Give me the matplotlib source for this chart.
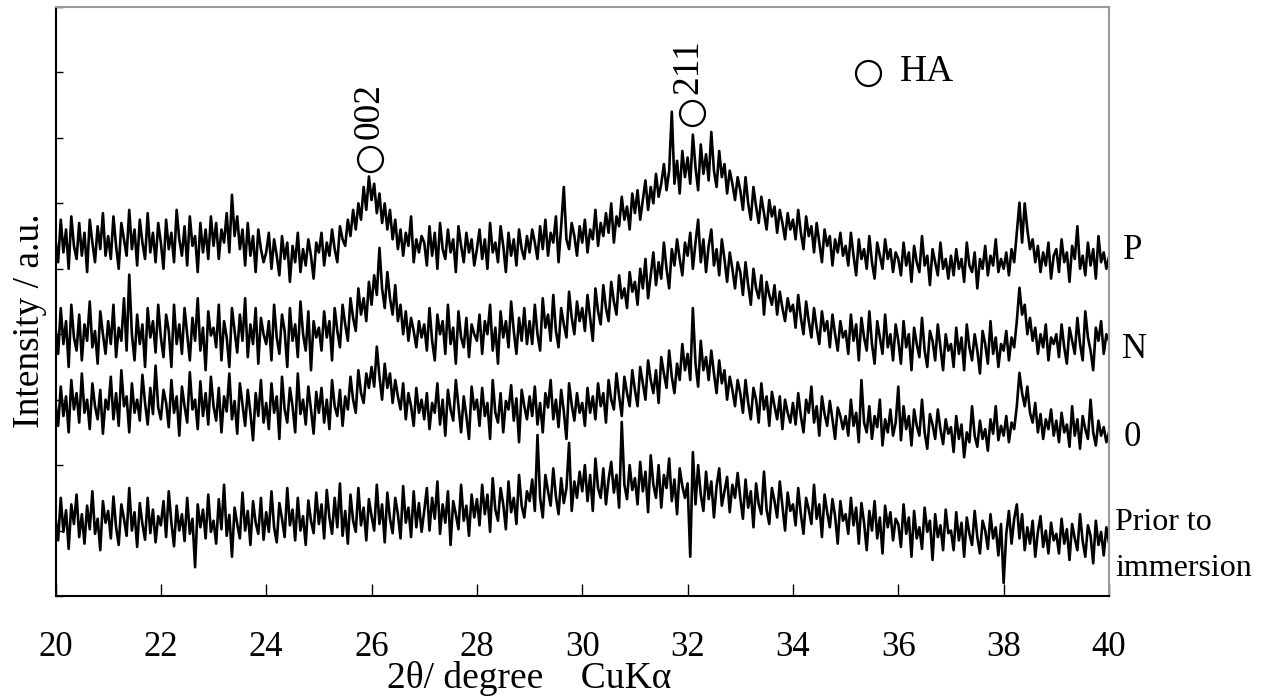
import numpy as np
import matplotlib
matplotlib.use("Agg")
import matplotlib.pyplot as plt
from matplotlib.lines import Line2D

# ---- data (intensity, arbitrary units, traces already offset) ----
two_theta_start = 20.0
two_theta_end = 40.0

prior = [
120, 85, 150, 98, 131, 72, 140, 110, 155, 90, 125, 80, 138, 102, 160, 95, 118, 70, 145, 112,
130, 88, 152, 105, 78, 140, 118, 92, 165, 100, 128, 75, 142, 110, 86, 150, 96, 132, 82, 122,
108, 145, 90, 160, 112, 76, 138, 100, 125, 84, 150, 95, 118, 44, 140, 105, 132, 88, 155, 98,
115, 80, 148, 102, 170, 92, 124, 60, 135, 110, 88, 158, 100, 130, 78, 145, 112, 95, 150, 86,
128, 98, 160, 105, 82, 142, 118, 90, 165, 108, 132, 85, 150, 100, 122, 78, 146, 115, 96, 158,
110, 140, 88, 162, 120, 95, 150, 105, 172, 92, 130, 80, 155, 115, 98, 165, 108, 135, 85, 148,
122, 100, 170, 110, 140, 82, 158, 118, 96, 150, 125, 88, 168, 112, 135, 90, 160, 105, 142, 98,
130, 165, 100, 150, 118, 175, 95, 140, 112, 160, 78, 145, 125, 102, 170, 115, 138, 92, 155, 120,
148, 108, 170, 125, 155, 98, 180, 132, 115, 165, 140, 102, 175, 128, 150, 110, 185, 138, 120, 160,
145, 178, 130, 246, 150, 120, 185, 160, 138, 195, 152, 125, 180, 142, 165, 234, 130, 175, 150, 190,
160, 200, 145, 185, 130, 210, 165, 150, 195, 140, 178, 205, 158, 185, 135, 266, 170, 148, 200, 162,
180, 140, 205, 160, 190, 128, 215, 170, 150, 200, 135, 185, 165, 210, 145, 178, 125, 195, 168, 150,
172, 60, 220, 140, 200, 155, 130, 190, 148, 175, 120, 168, 195, 138, 160, 182, 128, 170, 150, 188,
150, 118, 178, 135, 160, 105, 172, 140, 125, 190, 132, 110, 165, 145, 120, 175, 138, 100, 158, 130,
140, 108, 165, 125, 95, 150, 132, 110, 170, 118, 140, 90, 155, 128, 105, 148, 122, 80, 145, 115,
125, 95, 150, 108, 135, 80, 142, 112, 70, 130, 100, 145, 88, 120, 65, 138, 105, 128, 85, 118,
110, 75, 140, 95, 120, 60, 130, 88, 105, 72, 135, 98, 115, 55, 125, 90, 108, 70, 132, 96,
100, 70, 128, 85, 112, 60, 120, 95, 78, 130, 90, 65, 115, 100, 72, 125, 88, 105, 62, 110,
20, 95, 130, 80, 118, 140, 88, 125, 70, 105, 80, 115, 60, 98, 122, 75, 100, 65, 112, 85,
95, 65, 118, 80, 102, 55, 110, 88, 70, 125, 84, 60, 108, 92, 50, 115, 78, 98, 62, 105,
82]

zero = [
295, 260, 320, 275, 305, 250, 330, 285, 310, 265, 340, 280, 300, 255, 325, 290, 270, 315, 248, 300,
285, 335, 270, 310, 260, 345, 290, 305, 250, 325, 280, 300, 268, 338, 295, 262, 318, 278, 352, 288,
270, 315, 295, 258, 330, 280, 305, 245, 320, 290, 265, 342, 285, 300, 255, 328, 275, 310, 262, 335,
290, 268, 318, 250, 305, 282, 340, 270, 298, 248, 325, 292, 260, 315, 280, 238, 310, 275, 330, 265,
295, 255, 325, 280, 305, 240, 335, 285, 265, 318, 290, 250, 340, 278, 300, 262, 320, 285, 248, 312,
280, 318, 265, 300, 255, 330, 290, 275, 315, 260, 305, 285, 335, 300, 280, 345, 310, 295, 340, 318,
350, 320, 381, 335, 300, 355, 318, 340, 295, 330, 305, 285, 325, 270, 310, 290, 260, 318, 280, 300,
270, 310, 255, 295, 280, 325, 262, 300, 245, 315, 285, 268, 330, 290, 250, 305, 275, 240, 320, 285,
300, 260, 318, 275, 295, 240, 330, 280, 265, 310, 250, 298, 285, 322, 268, 302, 235, 315, 290, 270,
305, 275, 320, 262, 295, 250, 310, 288, 330, 270, 300, 258, 315, 282, 240, 325, 292, 268, 310, 280,
295, 260, 318, 280, 305, 270, 325, 290, 310, 265, 330, 300, 285, 340, 305, 275, 335, 310, 290, 345,
315, 290, 350, 325, 300, 360, 330, 310, 345, 295, 365, 340, 318, 375, 335, 310, 355, 330, 385, 345,
370, 330, 440, 355, 320, 390, 345, 365, 330, 375, 340, 310, 360, 325, 345, 300, 335, 315, 290, 330,
310, 280, 330, 295, 270, 318, 300, 265, 325, 285, 305, 260, 312, 290, 270, 305, 255, 300, 280, 265,
295, 262, 310, 275, 250, 300, 280, 320, 265, 290, 245, 305, 278, 260, 298, 270, 240, 288, 275, 255,
275, 245, 300, 260, 280, 235, 330, 265, 250, 290, 240, 275, 258, 300, 230, 270, 250, 285, 245, 265,
320, 238, 290, 255, 275, 230, 285, 260, 245, 300, 250, 225, 278, 262, 240, 285, 255, 232, 270, 248,
258, 220, 275, 240, 262, 212, 250, 235, 290, 245, 228, 268, 240, 255, 222, 270, 248, 290, 238, 260,
245, 275, 235, 265, 255, 290, 341, 310, 290, 320, 280, 265, 295, 250, 278, 240, 270, 255, 285, 245,
268, 235, 280, 250, 262, 228, 290, 245, 270, 225, 275, 255, 240, 300, 250, 230, 268, 245, 258, 235,
250]

n_series = [
410, 370, 440, 385, 420, 350, 445, 395, 375, 430, 360, 415, 390, 450, 380, 405, 355, 435, 400, 370,
420, 385, 445, 365, 410, 390, 455, 375, 491, 400, 360, 430, 385, 415, 350, 440, 395, 420, 372, 445,
395, 365, 430, 405, 350, 445, 385, 415, 370, 440, 400, 360, 425, 390, 455, 375, 410, 345, 435, 398,
410, 380, 445, 360, 420, 395, 350, 440, 405, 372, 430, 390, 455, 365, 415, 385, 440, 355, 425, 400,
385, 420, 360, 445, 395, 370, 430, 405, 350, 440, 390, 415, 365, 450, 400, 375, 435, 345, 420, 395,
410, 375, 435, 395, 420, 360, 440, 405, 380, 445, 415, 390, 455, 425, 405, 470, 430, 455, 420, 480,
445, 490, 460, 532, 470, 440, 495, 455, 430, 475, 420, 445, 400, 435, 390, 425, 405, 380, 420, 395,
415, 375, 440, 390, 360, 430, 400, 420, 370, 445, 385, 410, 355, 435, 395, 380, 425, 365, 415, 400,
390, 430, 370, 420, 400, 445, 375, 410, 355, 435, 395, 420, 380, 450, 405, 370, 425, 390, 440, 385,
420, 385, 445, 400, 375, 455, 410, 430, 390, 460, 405, 380, 440, 415, 395, 465, 425, 400, 450, 420,
440, 405, 460, 425, 390, 470, 435, 415, 475, 440, 420, 480, 450, 430, 490, 455, 470, 440, 495, 465,
480, 445, 500, 470, 515, 455, 490, 525, 475, 510, 485, 540, 500, 470, 530, 505, 545, 515, 490, 540,
520, 555, 500, 540, 575, 510, 545, 495, 535, 560, 505, 530, 490, 545, 515, 480, 525, 500, 470, 510,
495, 460, 510, 475, 445, 500, 470, 455, 490, 430, 480, 460, 445, 475, 430, 465, 440, 420, 455, 435,
445, 410, 460, 425, 400, 450, 420, 395, 440, 410, 385, 435, 405, 420, 380, 430, 400, 375, 420, 395,
405, 370, 430, 390, 415, 360, 425, 395, 375, 435, 385, 355, 420, 395, 370, 430, 380, 400, 360, 415,
390, 355, 420, 380, 400, 345, 410, 385, 365, 425, 375, 350, 405, 390, 360, 415, 380, 345, 400, 375,
385, 350, 410, 370, 395, 345, 415, 380, 360, 400, 375, 340, 405, 385, 355, 420, 370, 395, 350, 385,
375, 405, 360, 395, 380, 420, 471, 430, 445, 400, 425, 390, 410, 370, 400, 380, 415, 360, 395, 385,
400, 365, 415, 380, 355, 410, 390, 370, 425, 385, 360, 435, 395, 375, 345, 410, 390, 420, 370, 400,
390]

p_series = [
545, 510, 575, 525, 560, 500, 580, 535, 515, 570, 520, 555, 495, 575, 540, 510, 565, 530, 585, 520,
550, 515, 580, 535, 500, 570, 545, 520, 590, 530, 560, 505, 575, 540, 515, 585, 525, 555, 510, 570,
540, 500, 575, 530, 555, 510, 590, 545, 520, 565, 505, 580, 535, 550, 495, 570, 525, 560, 515, 580,
535, 570, 515, 560, 540, 585, 525, 613, 550, 580, 530, 560, 505, 570, 520, 550, 495, 560, 530, 510,
525, 555, 500, 545, 520, 490, 550, 515, 540, 480, 535, 510, 555, 495, 530, 505, 545, 520, 485, 540,
525, 555, 505, 540, 520, 560, 530, 510, 565, 545, 535, 575, 550, 590, 560, 600, 575, 625, 590, 641,
605, 630, 585, 615, 570, 600, 560, 590, 545, 575, 530, 560, 520, 555, 535, 580, 510, 545, 525, 550,
540, 505, 565, 520, 555, 500, 570, 530, 515, 560, 525, 545, 495, 565, 535, 510, 555, 525, 545, 505,
530, 560, 515, 545, 500, 570, 525, 540, 510, 565, 535, 495, 555, 520, 545, 505, 560, 530, 515, 550,
525, 560, 540, 515, 565, 530, 575, 520, 555, 540, 580, 510, 565, 625, 545, 530, 570, 550, 520, 565,
540, 575, 525, 560, 545, 590, 535, 570, 550, 585, 555, 600, 540, 580, 565, 610, 575, 595, 560, 615,
585, 620, 575, 605, 635, 590, 625, 600, 645, 610, 630, 660, 620, 650, 740, 630, 665, 615, 680, 640,
670, 630, 705, 655, 620, 690, 645, 675, 635, 709, 650, 625, 680, 640, 660, 615, 650, 630, 605, 640,
620, 590, 640, 600, 575, 625, 595, 570, 610, 585, 560, 605, 580, 595, 555, 590, 570, 545, 585, 560,
575, 545, 590, 555, 530, 580, 550, 565, 525, 570, 540, 510, 560, 535, 550, 505, 545, 525, 555, 520,
535, 505, 555, 520, 490, 545, 515, 530, 500, 550, 510, 485, 540, 520, 500, 545, 515, 530, 495, 525,
515, 490, 540, 505, 525, 480, 535, 510, 495, 550, 505, 520, 475, 530, 510, 490, 540, 500, 515, 485,
520, 490, 530, 500, 515, 480, 540, 505, 495, 525, 470, 515, 500, 535, 490, 520, 505, 545, 495, 515,
500, 525, 490, 530, 510, 555, 601, 540, 600, 560, 530, 545, 510, 535, 495, 525, 505, 540, 485, 520,
530, 495, 545, 510, 525, 480, 535, 515, 565, 500, 520, 490, 540, 505, 530, 485, 550, 510, 525, 500,
518]

series = [prior, zero, n_series, p_series]
x_ticks = [20, 22, 24, 26, 28, 30, 32, 34, 36, 38, 40]
peak_labels = ["002", "211"]
legend_text = "HA"

W, H = 1270, 699
fig = plt.figure(figsize=(W / 100, H / 100), dpi=100)
serif = ["Liberation Serif", "DejaVu Serif", "DejaVu Sans"]
plt.rcParams["font.family"] = serif


def fx(px):
    return px / W


def fy(py):
    return 1 - py / H


ax = fig.add_axes([fx(55.5), fy(596), fx(1109) - fx(55.5), fy(7) - fy(596)])

for s in series:
    xs = np.linspace(two_theta_start, two_theta_end, len(s))
    ax.plot(xs, s, color="black", lw=1.9)

ax.set_xlim(two_theta_start, two_theta_end)
ax.set_ylim(0, 900)
ax.set_xticks(x_ticks)
ax.set_xticklabels([str(t) for t in x_ticks])
ax.set_yticks(range(0, 901, 100))
ax.set_yticklabels([])
ax.tick_params(axis="x", direction="in", length=9, width=1, labelsize=25, pad=25)
ax.tick_params(axis="y", direction="in", length=5, width=1)

ax.spines["left"].set_color("black")
ax.spines["bottom"].set_color("black")
ax.spines["left"].set_linewidth(1.5)
ax.spines["bottom"].set_linewidth(1.5)
ax.spines["top"].set_color("#999999")
ax.spines["right"].set_color("#999999")
ax.spines["top"].set_linewidth(1.5)
ax.spines["right"].set_linewidth(1.5)

# axis labels
fig.text(fx(529), fy(679), "2\u03b8/ degree    CuK\u03b1", fontsize=27,
         ha="center", va="center", family=serif)
fig.text(fx(30), fy(321), "Intensity / a.u.", fontsize=27, rotation=90,
         ha="center", va="center", family=serif)

# right-hand series labels
fig.text(fx(1123), fy(250), "P", fontsize=25, ha="left", va="center", family=serif)
fig.text(fx(1122), fy(349), "N", fontsize=25, ha="left", va="center", family=serif)
fig.text(fx(1124), fy(437), "0", fontsize=25, ha="left", va="center", family=serif)
fig.text(fx(1115), fy(523), "Prior to", fontsize=23, ha="left", va="center", family=serif)
fig.text(fx(1115), fy(569), "immersion", fontsize=23, ha="left", va="center", family=serif)


def ring(px, py):
    fig.add_artist(Line2D([fx(px)], [fy(py)], transform=fig.transFigure,
                          marker="o", ms=18, mfc="none", mec="black", mew=1.6,
                          linestyle="none"))


# peak annotations
ring(370, 159)
fig.text(fx(369), fy(111), peak_labels[0], fontsize=27, rotation=90,
         ha="center", va="center", family=serif)
ring(692, 113)
fig.text(fx(688), fy(67), peak_labels[1], fontsize=27, rotation=90,
         ha="center", va="center", family=serif)
ring(868, 73)
fig.text(fx(900), fy(72), legend_text, fontsize=27, ha="left", va="center", family=serif)

fig.savefig("out.png", dpi=100)
